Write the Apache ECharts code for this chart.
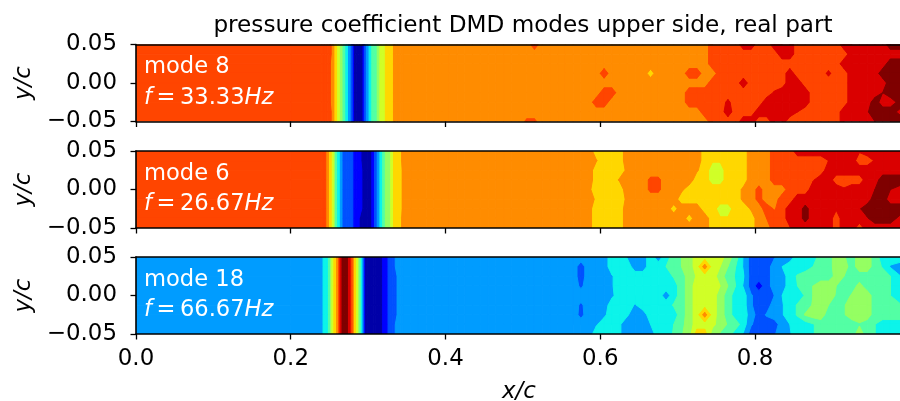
<!DOCTYPE html>
<html><head><meta charset="utf-8">
<style>html,body{margin:0;padding:0;background:#fff}#c{width:900px;height:401px}</style>
<script src="https://cdn.jsdelivr.net/npm/echarts@6/dist/echarts.min.js"></script>
</head><body><div id="c"></div>
<script>
// Discrete contour levels (jet, 13 bands)
const levelColors=['#0000a8','#0000ff','#0050ff','#009cff','#0cf4ea','#53ffa4','#95ff62','#d0ff27','#ffd700','#ff8c00','#ff4500','#da0000','#7f0000'];
const yNodes=[0.05,0.0375,0.025,0.0125,0,-0.0125,-0.025,-0.0375,-0.05];
const xFlat=[0,0.2];
const xStripe=[0.24,0.2435,0.247,0.2505,0.254,0.2575,0.261,0.2645,0.268,0.2715,0.275,0.2785,0.282,0.2855,0.289,0.2925,0.296,0.2995,0.303,0.3065,0.31,0.3135,0.317,0.3205,0.324,0.3275,0.331,0.3345,0.338,0.3415,0.345];
const xRight=[0.355,0.365,0.375,0.385,0.395,0.405,0.415,0.425,0.435,0.445,0.455,0.465,0.475,0.485,0.495,0.505,0.515,0.525,0.535,0.545,0.555,0.565,0.575,0.585,0.595,0.605,0.615,0.625,0.635,0.645,0.655,0.665,0.675,0.685,0.695,0.705,0.715,0.725,0.735,0.745,0.755,0.765,0.775,0.785,0.795,0.805,0.815,0.825,0.835,0.845,0.855,0.865,0.875,0.885,0.895,0.905,0.915,0.925,0.935,0.945,0.955,0.965,0.975,0.99];

const panelNames=['mode 8','mode 6','mode 18'];
const panelFreqs=['33.33','26.67','66.67'];
const tickX=[0,0.2,0.4,0.6,0.8];

// level reached by the flat left part of each panel
const mode8Left=10, mode6Left=10, mode18Left=3;
// level at each stripe node, for top / middle / bottom of the panel
const mode8StripeTop=[10,10,10,10,9,8,7,6,5,4,3,2,0,0,0,0,2,3,4,5,5,6,7,7,8,8,8,9,9,9,9];
const mode8StripeMid=[10,10,10,9.6,9,8,7,6,5,4,3,2,0,0,0,0,2,3,4,5,5,6,7,7,8,8,8,9,9,9,9];
const mode8StripeBot=[10,10,10,10,9,8,7,6,5,4,3,2,0,0,0,0,2,3,4,5,5,6,7,7,8,8,8,9,9,9,9];
const mode6StripeTop=[10,10,9,8,7,5,4,3,2,2,2,2,1,1,1,0,0,0,0,1,2,3,4,5,6,6,7,8,8,8,9];
const mode6StripeMid=[10,10,9,8,7,5,4,3,2,2,2,2,1,1,1,0.4,0,0,0,1,2,3,4,5,6,6,7,8,8,8,8.7];
const mode6StripeBot=[10,10,9,8,7,5,4,3,2,2,2,2,1,1,0.4,0,0,0,0,1,2,3,4,5,6,6,7,8,8,8,9];
const mode18StripeTop=[3,4,4,5,7,8,9,11,12,12,11,10,8,7,5,3,0,0,0,0,0,0,0,1,1,2,2,2.4,3,3,3];
const mode18StripeMid=[3,4,4,5,7,8,9,11,12,12,11,10,8,7,5,3,0,0,0,0,0,0,0,1,1,2,2,2,2.6,3,3];
const mode18StripeBot=[3,4,4,5,7,8,9,11,12,12,11,10,8,7,5,3,0,0,0,0,0,0,0,1,1,2,2,2.4,3,3,3];

// right part, top row first: pairs of [level, last node index holding it]
const mode8Rows=[
[9,15,10,16,9,38,10,42,11,44,10,46,11,49,10,55,11,61,12,63],
[9,38,10,47,11,49,10,56,11,63],
[9,38,10,55,11,61,12,63],
[9,24,10,25,9,30,8.1,31,9,35,10,37,9,39,10,48,11,49,10,53,10.7,54,10,56,11,60,12,63],
[9,38,10,42,11,43,10,48,11,50,10,56,11,61,12,63],
[9,24,10,26,9,35,10,46,10.6,47,11,51,10,56,11,60,11.5,61,12,63],
[9,23,10,25,9,35,10,40,10.7,41,10,45,11,51,10,56,11,59,12,60,11,62,12,63],
[9,37,10,40,11,41,10,44,11,49,10.5,50,10,55,11,58,11.4,59,12,62,11,63],
[9,14,9.7,16,9,38,10,42,11,44,10,46,11,48,10,55,11,59,11.5,60,12,63]];
const mode6Rows=[
[9,23,8,27,9,37,8,43,9,44,8.4,45,9,46,10,49,11,57,10.6,58,11,63],
[9,23,8.55,24,8,27,9,37,8,38,7.6,40,8,43,9,46,10,53,10.5,54,11,57,10,59,10.6,60,11,63],
[9,23,8,27,8.7,28,9,36,8.6,37,8,38,7,40,8,43,9,46,10,53,11,63],
[9,23,8,26,8.6,27,9,30,9.7,32,9,36,8,38,7,40,8,43,9,46,10,51,10.4,52,11,54,10,58,11,60,12,63],
[9,22,8.7,23,8,27,9,30,9.7,32,9,34,8.7,35,8,42,8.7,43,9,44,9.8,45,9,48,10,51,11,55,10.6,56,11,59,11.5,60,12,61,11.5,62,11,63],
[9,23,8.3,24,8,27,8.7,28,9,34,8,42,8.7,43,9,44,9.8,45,9,47,10,49,11,59,12,61,11,63],
[9,22,8.8,23,8,27,9,33,8.1,34,9,37,8,39,7,41,8,43,8.6,44,9,45,10,46,9.4,47,10,48,11,50,11.8,51,11,54,10.6,55,11,57,11.4,58,12,63],
[9,22,8.8,23,8,27,9,35,8.1,36,9,38,8,39,7.6,41,8,44,9,45,9.5,46,10,48,11,50,11.8,51,11,54,10,55,11,58,11.4,59,12,62,11,63],
[9,22,8.8,23,8,27,9,38,8,44,9,46,10,48,10.4,49,11,54,10,55,11,57,10,58,11,63]];
const mode18Rows=[
[3,25,4,27,3.4,28,3,30,4,31,3,32,4,33,5,34,5.5,35,6,36,7,40,6,41,5,42,3.4,43,2,46,2.4,47,3,49,4,52,5,54,6,55,5.6,56,5,57,6,59,5,60,4,63],
[3,21,2,22,3,25,4,28,3,30,4,32,4.5,33,5,34,5.5,35,6,36,7,37,9,38,7,39,6.5,40,5.5,41,4.5,42,3.4,43,2,46,3,47,3.5,48,4,51,4.5,52,5,54,6,56,5,57,6,59,5,60,4.4,61,3.4,62,3,63],
[3,21,2,22,3,25,3.4,26,4,33,4.6,34,5,35,6,36,6.6,37,7,39,6,40,5,41,4.4,42,3.6,43,2,46,3,48,4,49,4.6,50,5,54,5.8,55,5.5,56,5,61,4.5,62,3.4,63],
[3,21,2.3,22,3,25,3.4,26,4,34,5,35,6,36,7,39,6.5,40,5.5,41,4.5,42,3.4,43,2,44,1,45,2,46,3,48,4,49,4.5,50,5,51,5.5,52,6,54,5.5,55,5,57,5.8,58,5,61,4.5,62,4,63],
[3,25,3.3,26,4,32,3,33,4,34,5,35,6,36,7,39,6,40,5,41,4,43,2.6,44,2,46,2.5,47,3.5,48,4,50,4.6,51,5.5,52,6,54,5.4,55,5,56,5.6,57,6,59,5,61,4.5,62,4,63],
[3,21,2.3,22,3,25,4,28,3.4,29,4,33,4.6,34,5,35,6,36,7,39,6,40,5,41,4,43,2.6,44,2,46,3,47,3.4,48,4,49,4.6,50,5,51,5.6,52,6,53,5.5,54,5,55,5.4,56,6,59,5,62,4.5,63],
[3,21,2.2,22,3,24,3.3,25,4,27,3.6,28,3,30,4,34,5,35,6,36,7,37,9,38,7,39,6,40,5,41,4,43,3,44,2,45,2.6,46,3,47,3.4,48,4,49,4.6,50,5.6,51,6,53,5,55,5.4,56,6,59,5,63],
[3,23,3.4,24,4,26,3.6,27,3,30,3.5,31,4,33,4.5,34,5.2,35,6,36,7,38,6.8,39,6,40,5.4,41,5,42,4,43,2.6,44,2,47,3,48,3.5,49,4,51,4.4,52,5,57,5.4,58,5,59,4.5,60,4,63],
[3,23,4,26,3.6,27,3,31,4,33,4.6,34,5.4,35,6,36,8,38,6,39,5.4,40,5,41,4,42,3.4,43,2,46,2.4,47,3,48,3.4,49,4,51,4.4,52,5,57,6,58,5,59,4.5,60,4,63]];

const xNodes=xFlat.concat(xStripe,xRight);
function expandRuns(runs){const out=[];for(let i=0;i<runs.length;i+=2){while(out.length<=runs[i+1])out.push(runs[i]);}return out;}
function buildGrid(left,top,mid,bot,rows){
  return rows.map((r,j)=>{
    const stripe=j<2?top:(j>6?bot:mid);
    return [left,left].concat(stripe,expandRuns(r));
  });
}
const grids=[
  buildGrid(mode8Left,mode8StripeTop,mode8StripeMid,mode8StripeBot,mode8Rows),
  buildGrid(mode6Left,mode6StripeTop,mode6StripeMid,mode6StripeBot,mode6Rows),
  buildGrid(mode18Left,mode18StripeTop,mode18StripeMid,mode18StripeBot,mode18Rows)];

function quads(g){
  const d=[];
  for(let j=0;j<yNodes.length-1;j++)for(let i=0;i<xNodes.length-1;i++){
    d.push([xNodes[i],yNodes[j],xNodes[i+1],yNodes[j+1],g[j][i],g[j][i+1],g[j+1][i+1],g[j+1][i]]);
  }
  return d;
}
function clipAbove(poly,t){
  const out=[];
  for(let i=0;i<poly.length;i++){
    const a=poly[i],b=poly[(i+1)%poly.length];
    const ia=a[2]>=t,ib=b[2]>=t;
    if(ia)out.push(a);
    if(ia!==ib){const f=(t-a[2])/(b[2]-a[2]);out.push([a[0]+f*(b[0]-a[0]),a[1]+f*(b[1]-a[1]),t]);}
  }
  return out;
}
function renderCell(params,api){
  const x0=api.value(0),y0=api.value(1),x1=api.value(2),y1=api.value(3);
  const quad=[[x0,y0,api.value(4)],[x1,y0,api.value(5)],[x1,y1,api.value(6)],[x0,y1,api.value(7)]];
  const vs=quad.map(p=>p[2]);
  const lo=Math.round(Math.min.apply(null,vs)),hi=Math.round(Math.max.apply(null,vs));
  const children=[];
  for(let k=lo;k<=hi;k++){
    const poly=k===lo?quad:clipAbove(quad,k-0.5);
    if(poly.length<3)continue;
    children.push({type:'polygon',z2:k,shape:{points:poly.map(p=>api.coord([p[0],p[1]]))},
      style:{fill:levelColors[k],stroke:levelColors[k],lineWidth:1},silent:true});
  }
  return {type:'group',children};
}

const font='DejaVu Sans', fs=22.9;
const tops=[44.5,151,257], plotH=77, plotLeft=136, plotW=766, xMax=0.99;
const grid=[],xAxis=[],yAxis=[],series=[],graphic=[];
tops.forEach((t,i)=>{
  grid.push({left:plotLeft,top:t,width:plotW,height:plotH,containLabel:false,outerBoundsMode:'none'});
  xAxis.push({type:'value',gridIndex:i,min:0,max:xMax,interval:0.2,position:'bottom',z:10,
    axisLine:{onZero:false,lineStyle:{color:'#000',width:1.6}},
    axisTick:{show:true,length:5.5,lineStyle:{color:'#000',width:1.3}},
    splitLine:{show:false},
    axisLabel:{show:i===2,margin:14,fontFamily:font,fontSize:fs,color:'#000',showMaxLabel:false,
      formatter:v=>tickX.some(x=>Math.abs(x-v)<1e-6)?v.toFixed(1):''},
    name:i===2?'x/c':'',nameLocation:'middle',nameGap:47,
    nameTextStyle:{fontFamily:font,fontSize:fs,fontStyle:'italic',color:'#000'}});
  yAxis.push({type:'value',gridIndex:i,min:-0.05,max:0.05,interval:0.05,z:10,
    axisLine:{onZero:false,lineStyle:{color:'#000',width:1.6}},
    axisTick:{show:true,length:5.5,lineStyle:{color:'#000',width:1.3}},
    splitLine:{show:false},
    axisLabel:{margin:19,fontFamily:font,fontSize:fs,color:'#000',showMinLabel:true,showMaxLabel:true,hideOverlap:false,
      formatter:v=>(v<-1e-9?'\u2212':'')+Math.abs(v).toFixed(2)},
    name:'y/c',nameLocation:'middle',nameRotate:90,nameGap:100,
    nameTextStyle:{fontFamily:font,fontSize:fs,fontStyle:'italic',color:'#000'}});
  series.push({type:'custom',xAxisIndex:i,yAxisIndex:i,coordinateSystem:'cartesian2d',clip:true,silent:true,
    renderItem:renderCell,data:quads(grids[i]),encode:{x:[0,2],y:[1,3]},progressive:0,animation:false});
  graphic.push({type:'text',x:144,y:t+11.5,z:20,silent:true,style:{text:panelNames[i],fill:'#fff',fontFamily:font,fontSize:22.6}});
  graphic.push({type:'text',x:144,y:t+42,z:20,silent:true,style:{
    text:'{i|f}{n|\u2009=\u2009'+panelFreqs[i]+'}{i|Hz}',fill:'#fff',
    rich:{i:{fontFamily:font,fontSize:22.6,fontStyle:'italic',fill:'#fff',color:'#fff'},
          n:{fontFamily:font,fontSize:22.6,fill:'#fff',color:'#fff'}}}});
});
// top spines
tops.forEach((t,i)=>{
  xAxis.push({type:'value',gridIndex:i,min:0,max:xMax,position:'top',z:10,
    axisLine:{onZero:false,lineStyle:{color:'#000',width:1.6}},
    axisTick:{show:false},axisLabel:{show:false},splitLine:{show:false}});
});

const chart=echarts.init(document.getElementById('c'),null,{renderer:'canvas',width:900,height:401});
chart.setOption({animation:false,backgroundColor:'#fff',textStyle:{fontFamily:font},
  title:{text:'pressure coefficient DMD modes upper side, real part',left:518,top:9,textAlign:'center',
    textStyle:{fontFamily:font,fontSize:23.15,fontWeight:'normal',color:'#000'}},
  grid,xAxis,yAxis,series,graphic});
</script></body></html>
